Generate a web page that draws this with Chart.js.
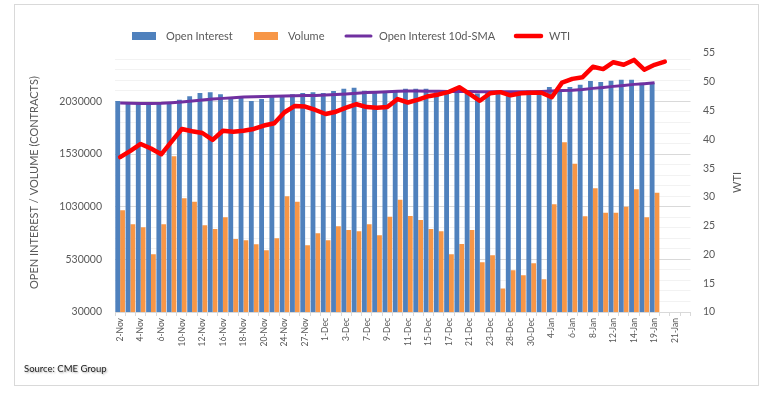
<!DOCTYPE html>
<html>
<head>
<meta charset="utf-8">
<script src="https://cdn.jsdelivr.net/npm/chart.js@4.4.1/dist/chart.umd.min.js"></script>
<style>
  html, body { margin: 0; padding: 0; background: #fff; }
  #frame { position: absolute; left: 14px; top: 4px; width: 743px; height: 380px; border: 1px solid #d9d9d9; }
  #wrap { position: absolute; left: 0; top: 0; width: 776px; height: 397px; }
  #source { position: absolute; left: 24px; top: 363px; font: 9.5px Lato, sans-serif; color: #222;
            text-shadow: 1px 1px 2px rgba(0, 0, 0, 0.35); }
</style>
</head>
<body>
<div id="frame"></div>
<div id="wrap"><canvas id="oiChart"></canvas></div>
<div id="source">Source: CME Group</div>

<script>
// ----------------------------------------------------------------------------
// DATA
// ----------------------------------------------------------------------------

const categories = [
    '2-Nov', '3-Nov', '4-Nov', '5-Nov', '6-Nov', '9-Nov', '10-Nov', '11-Nov', '12-Nov', '13-Nov',
    '16-Nov', '17-Nov', '18-Nov', '19-Nov', '20-Nov', '23-Nov', '24-Nov', '25-Nov', '27-Nov', '30-Nov',
    '1-Dec', '2-Dec', '3-Dec', '4-Dec', '7-Dec', '8-Dec', '9-Dec', '10-Dec', '11-Dec', '14-Dec',
    '15-Dec', '16-Dec', '17-Dec', '18-Dec', '21-Dec', '22-Dec', '23-Dec', '24-Dec', '28-Dec', '29-Dec',
    '30-Dec', '31-Dec', '4-Jan', '5-Jan', '6-Jan', '7-Jan', '8-Jan', '11-Jan', '12-Jan', '13-Jan',
    '14-Jan', '15-Jan', '19-Jan', '20-Jan', '21-Jan', '22-Jan'
];

const openInterest = [
    2033000, 2008000, 2008000, 2001000, 2008000, 2018000, 2046000, 2080000, 2109000, 2118000,
    2099000, 2071000, 2080000, 2033000, 2052000, 2080000, 2080000, 2099000, 2109000, 2118000,
    2109000, 2128000, 2151000, 2160000, 2132000, 2122000, 2122000, 2122000, 2151000, 2151000,
    2151000, 2118000, 2128000, 2144000, 2118000, 2106000, 2122000, 2135000, 2118000, 2118000,
    2135000, 2135000, 2166000, 2144000, 2166000, 2189000, 2223000, 2214000, 2227000, 2236000,
    2236000, 2208000, 2208000
];

const volume = [
    996000, 863000, 835000, 578000, 863000, 1510000, 1110000, 1076000, 854000, 819000,
    930000, 724000, 711000, 673000, 616000, 730000, 1129000, 1076000, 663000, 778000,
    711000, 844000, 810000, 797000, 863000, 759000, 934000, 1095000, 943000, 905000,
    819000, 797000, 578000, 677000, 810000, 502000, 568000, 254000, 426000, 378000,
    492000, 340000, 1053000, 1643000, 1438000, 939000, 1205000, 972000, 972000, 1029000,
    1196000, 930000, 1162000
];

const oiSma10 = [
    2014000, 2013000, 2011000, 2011000, 2013000, 2018000, 2025000, 2034000, 2044000, 2052000,
    2059000, 2066000, 2071000, 2075000, 2078000, 2080000, 2082000, 2084000, 2086000, 2087000,
    2090000, 2095000, 2101000, 2108000, 2114000, 2118000, 2122000, 2127000, 2130000, 2128000,
    2127000, 2126000, 2125000, 2125000, 2124000, 2123000, 2122000, 2122000, 2122000, 2122000,
    2122000, 2124000, 2128000, 2133000, 2137000, 2144000, 2154000, 2163000, 2173000, 2182000,
    2192000, 2199000, 2208000
];

const wti = [
    36.9, 38.0, 39.2, 38.4, 37.4, 39.6, 41.8, 41.4, 41.1, 39.9,
    41.5, 41.3, 41.5, 41.8, 42.4, 42.8, 44.7, 45.8, 45.7, 45.1,
    44.4, 44.8, 45.5, 46.1, 45.6, 45.5, 45.6, 47.0, 46.4, 46.9,
    47.5, 47.8, 48.25, 49.05, 47.9, 46.7, 48.0, 48.2, 47.65, 48.0,
    48.1, 48.1, 47.3, 49.85, 50.5, 50.8, 52.6, 52.2, 53.4, 52.95,
    53.8, 52.1, 52.95, 53.5
];

const leftTicks = [30000, 530000, 1030000, 1530000, 2030000];
const rightTicks = [10, 15, 20, 25, 30, 35, 40, 45, 50, 55];

// ----------------------------------------------------------------------------
// CHART
// ----------------------------------------------------------------------------

const FONT = 'Lato, sans-serif';
const TEXT_COLOR = '#595959';

// legend + right axis title drawn by hand (Excel-like layout)
const excelDecor = {
    id: 'excelDecor',
    afterDraw(chart) {
        const ctx = chart.ctx;
        const legendX = [132, 254, 345, 515];
        const y = 36;
        ctx.save();
        ctx.font = '11px ' + FONT;
        ctx.textBaseline = 'middle';
        chart.data.datasets.forEach((ds, i) => {
            const x = legendX[i];
            if (ds.type === 'bar') {
                ctx.fillStyle = ds.backgroundColor;
                ctx.fillRect(x, y - 4, 24, 8);
            } else {
                ctx.strokeStyle = ds.borderColor;
                ctx.lineWidth = ds.borderWidth;
                ctx.lineCap = 'round';
                ctx.beginPath();
                ctx.moveTo(x + 1, y);
                ctx.lineTo(x + 26, y);
                ctx.stroke();
            }
            ctx.fillStyle = TEXT_COLOR;
            ctx.fillText(ds.label, x + 34, y);
        });

        // secondary axis title
        const area = chart.chartArea;
        ctx.translate(737, (area.top + area.bottom) / 2);
        ctx.rotate(-Math.PI / 2);
        ctx.textAlign = 'center';
        ctx.font = '11px ' + FONT;
        ctx.fillText('WTI', 0, 0);
        ctx.restore();
    }
};

new Chart(document.getElementById('oiChart'), {
    type: 'bar',
    data: {
        labels: categories,
        datasets: [{
            type: 'bar',
            label: 'Open Interest',
            data: openInterest,
            backgroundColor: '#4F81BD',
            yAxisID: 'y',
            order: 2
        }, {
            type: 'bar',
            label: 'Volume',
            data: volume,
            backgroundColor: '#F79646',
            yAxisID: 'y',
            order: 2
        }, {
            type: 'line',
            label: 'Open Interest 10d-SMA',
            data: oiSma10,
            borderColor: '#7030A0',
            borderWidth: 3,
            pointRadius: 0,
            tension: 0,
            yAxisID: 'y',
            order: 1
        }, {
            type: 'line',
            label: 'WTI',
            data: wti,
            borderColor: '#FF0000',
            borderWidth: 4.5,
            borderJoinStyle: 'round',
            borderCapStyle: 'round',
            pointRadius: 0,
            tension: 0,
            yAxisID: 'y1',
            order: 0
        }]
    },
    options: {
        responsive: true,
        maintainAspectRatio: false,
        animation: false,
        datasets: {
            bar: {
                categoryPercentage: 0.94,
                barPercentage: 1.0
            }
        },
        layout: {
            padding: { top: 53, left: 0, right: 0, bottom: 0 }
        },
        plugins: {
            legend: { display: false },
            tooltip: { enabled: false }
        },
        scales: {
            x: {
                grid: {
                    offset: true,
                    drawOnChartArea: false,
                    color: '#d9d9d9',
                    tickLength: 4
                },
                border: { color: '#d9d9d9' },
                ticks: {
                    autoSkip: false,
                    minRotation: 90,
                    maxRotation: 90,
                    padding: 2,
                    color: TEXT_COLOR,
                    font: { family: FONT, size: 8.5 },
                    callback: function(value, index) {
                        return index % 2 === 0 ? categories[index] : '';
                    }
                },
                afterFit: function(scale) {
                    scale.height = 85;
                }
            },
            y: {
                position: 'left',
                min: 30000,
                max: 2490000,
                afterBuildTicks: function(scale) {
                    const ticks = [];
                    for (let v = leftTicks[0]; v <= scale.max; v += 100000) {
                        ticks.push({ value: v });
                    }
                    scale.ticks = ticks;
                },
                grid: {
                    drawTicks: false,
                    color: function(context) {
                        return leftTicks.includes(context.tick.value) ? '#d9d9d9' : '#f2f2f2';
                    }
                },
                border: { display: false },
                ticks: {
                    autoSkip: false,
                    padding: 13,
                    color: TEXT_COLOR,
                    font: { family: FONT, size: 10.5 },
                    callback: function(value) {
                        return leftTicks.includes(value) ? String(value) : '';
                    }
                },
                title: {
                    display: true,
                    text: 'OPEN INTEREST / VOLUME (CONTRACTS)',
                    color: TEXT_COLOR,
                    font: { family: FONT, size: 11 },
                    padding: { top: 28, bottom: 0 }
                },
                afterFit: function(scale) {
                    scale.width = 115;
                }
            },
            y1: {
                position: 'right',
                min: rightTicks[0],
                max: rightTicks[rightTicks.length - 1],
                grid: { display: false, drawTicks: false },
                border: { display: false },
                ticks: {
                    autoSkip: false,
                    stepSize: 5,
                    padding: 12.5,
                    color: TEXT_COLOR,
                    font: { family: FONT, size: 10.5 }
                },
                afterFit: function(scale) {
                    scale.width = 85.5;
                }
            }
        }
    },
    plugins: [excelDecor]
});
</script>
</body>
</html>
